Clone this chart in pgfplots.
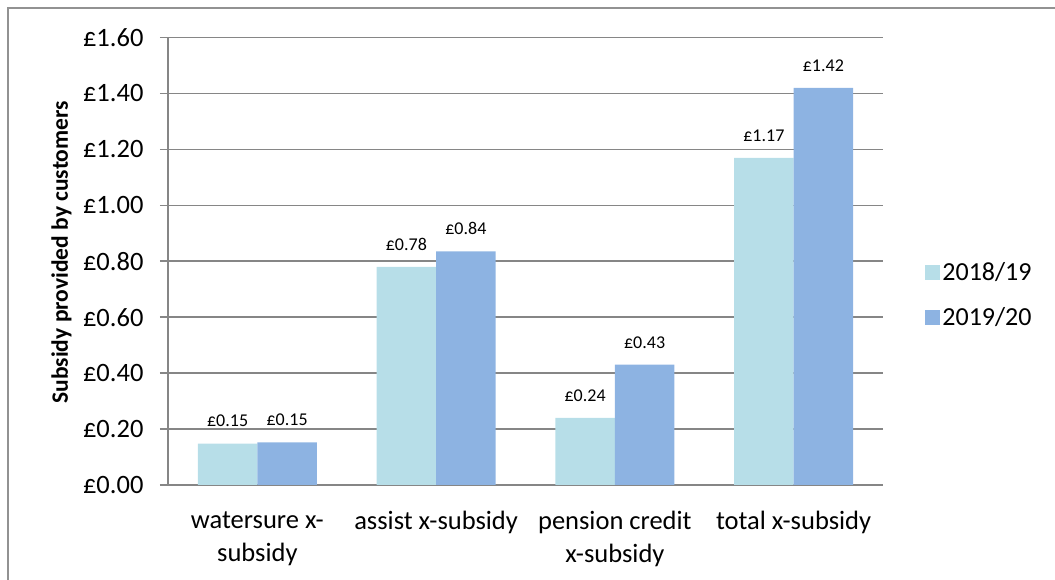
\documentclass[border=0pt]{standalone}
\usepackage{pgfplots}
\pgfplotsset{compat=1.18}
\usepackage{fontspec}
\setmainfont{Carlito}
\definecolor{c1}{HTML}{B7DEE8}
\definecolor{c2}{HTML}{8DB3E2}
\definecolor{gridc}{HTML}{868686}
\begin{document}
\begin{tikzpicture}[x=1pt,y=1pt]
\path[use as bounding box] (0,0) rectangle (1055,580);
\draw[gridc!90, line width=1.5pt] (8,0) -- (8,572) -- (1055,572);
\begin{axis}[
  at={(168pt,95pt)}, anchor=south west,
  scale only axis, width=715pt, height=447.5pt,
  xmin=-0.5, xmax=3.5, ymin=0, ymax=1.6,
  ybar=0pt, bar width=59.5pt,
  axis x line*=bottom, axis y line*=left,
  axis line style={gridc, line width=1.5pt},
  ytick={0,0.2,...,1.6},
  ymajorgrids, grid style={gridc, line width=1.5pt},
  tick align=outside, major tick length=8pt,
  tick style={gridc, line width=1.5pt},
  xtick={0,1,2,3},
  xticklabels={{watersure x-\\subsidy},{assist x-subsidy},{pension credit\\x-subsidy},{total x-subsidy}},
  x tick style={draw=none},
  extra x ticks={-0.5,0.5,1.5,2.5,3.5},
  extra x tick labels={},
  extra x tick style={tick style={gridc, line width=1.5pt}, major tick length=8pt, grid=none},
  xticklabel style={font=\fontsize{26.5}{33}\selectfont, align=center, anchor=north, yshift=-15pt},
  yticklabel={£\pgfmathprintnumber[fixed,fixed zerofill,precision=2,assume math mode=true]{\tick}},
  yticklabel style={font=\fontsize{26.5}{30}\selectfont, xshift=-13pt},
  ylabel={Subsidy provided by customers},
  ylabel style={at={(axis description cs:-0.149,0.52)}, anchor=center, rotate=0, font=\fontsize{23.5}{27}\selectfont\bfseries},
  nodes near coords={£\pgfmathprintnumber[fixed,fixed zerofill,precision=2,assume math mode=true]{\pgfplotspointmeta}},
  every node near coord/.append style={font=\fontsize{18}{20}\selectfont, anchor=south, yshift=13pt},
  legend style={at={(axis description cs:1.059,0.425)}, anchor=west, draw=none, fill=none,
    font=\fontsize{26}{30}\selectfont, row sep=22pt, inner sep=0pt},
  legend image code/.code={\fill[#1,draw=none] (0pt,-7.5pt) rectangle (15pt,7.5pt);},
  legend cell align=left,
]
\addplot[fill=c1, draw=none] coordinates {(0,0.148) (1,0.78) (2,0.24) (3,1.17)};
\addplot[fill=c2, draw=none] coordinates {(0,0.152) (1,0.835) (2,0.43) (3,1.42)};
\legend{2018/19,2019/20}
\end{axis}
\end{tikzpicture}
\end{document}
